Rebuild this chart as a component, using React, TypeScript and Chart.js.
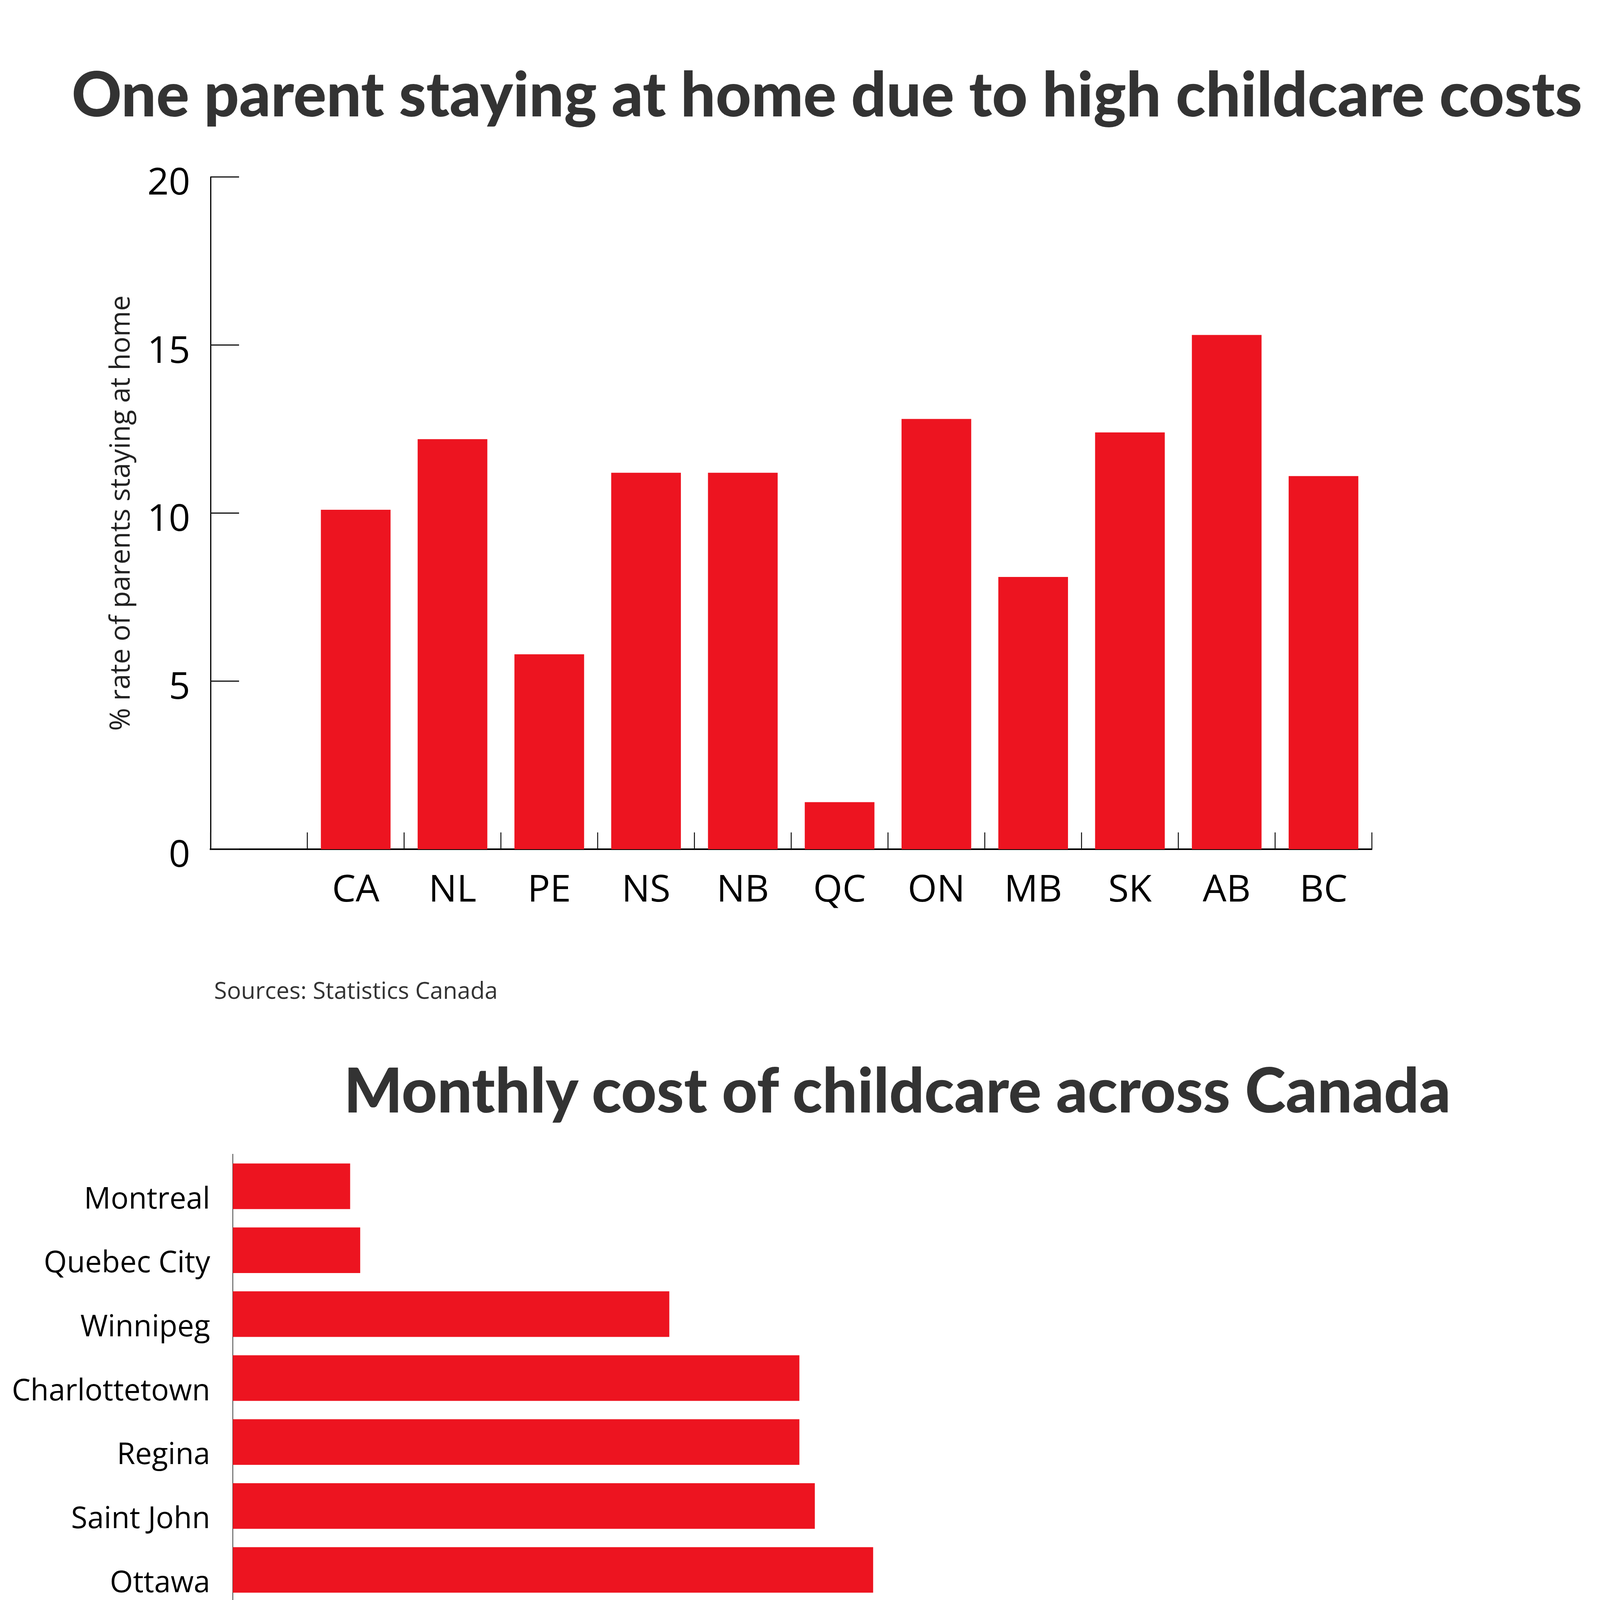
import React, { useEffect, useRef } from 'react';
import { Chart, registerables } from 'chart.js';

Chart.register(...registerables);

// ---------- data ----------
const provinces = ['CA', 'NL', 'PE', 'NS', 'NB', 'QC', 'ON', 'MB', 'SK', 'AB', 'BC'];
const stayHomeRate = [10.1, 12.2, 5.8, 11.2, 11.2, 1.4, 12.8, 8.1, 12.4, 15.3, 11.1];
const rateTicks = [0, 5, 10, 15, 20];

const cities = [
  'Montreal', 'Quebec City', 'Winnipeg', 'Charlottetown', 'Regina', 'Saint John',
  'Ottawa', 'Halifax', 'Edmonton', "St. John's", 'Calgary', 'Vancouver', 'Toronto',
];
const monthlyCost = [175, 190, 651, 845, 845, 868, 955, 965, 975, 977, 1100, 1400, 1685];
const costTicks = [0, 500, 1000, 1500, 2000];
const costTickLabels = ['0', '$500', '$1000', '$1500', '$2000'];

const title1 = 'One parent staying at home due to high childcare costs';
const title2 = 'Monthly cost of childcare across Canada';
const source1 = 'Sources: Statistics Canada';
const source2 = 'Sources: Canadian Centre for Policy Alternatives (CCPA)';
const yTitle1 = '% rate of parents staying at home';

const RED = '#ED1420';
const LABEL_FONT = "'Open Sans', 'Noto Sans', sans-serif";

// inward tick marks drawn from the library's scales, under the bars
const innerTicks = {
  id: 'innerTicks',
  beforeDatasetsDraw(chart: any, _args: any, opts: any) {
    if (!opts || !opts.items) return;
    const { ctx, chartArea } = chart;
    ctx.save();
    for (const item of opts.items) {
      const scale = chart.scales[item.scale];
      if (!scale) continue;
      ctx.strokeStyle = item.color;
      ctx.lineWidth = item.width;
      ctx.lineCap = 'butt';
      ctx.beginPath();
      if (item.mode === 'boundaries') {
        const n = scale.getLabels().length;
        for (let i = 0; i <= n; i++) {
          const x = scale.getPixelForValue(i - 0.5);
          ctx.moveTo(x, chartArea.bottom);
          ctx.lineTo(x, chartArea.bottom - item.length);
        }
      } else if (scale.isHorizontal()) {
        scale.ticks.forEach((_t: any, i: number) => {
          const x = scale.getPixelForTick(i);
          ctx.moveTo(x, chartArea.bottom);
          ctx.lineTo(x, chartArea.bottom - item.length);
        });
      } else {
        scale.ticks.forEach((_t: any, i: number) => {
          const y = scale.getPixelForTick(i);
          ctx.moveTo(chartArea.left, y);
          ctx.lineTo(chartArea.left + item.length, y);
        });
      }
      ctx.stroke();
    }
    ctx.restore();
  },
};

function zeroPad(scale: any) {
  scale.paddingTop = 0;
  scale.paddingBottom = 0;
  scale.paddingLeft = 0;
  scale.paddingRight = 0;
}

const W = 4168;
const C1_TOP = 400;
const C1_H = 2000;
const C2_TOP = 2900;
const C2_H = 2400;

export default function App() {
  const ref1 = useRef<HTMLCanvasElement>(null);
  const ref2 = useRef<HTMLCanvasElement>(null);

  useEffect(() => {
    const labels1 = ['', ...provinces];
    const data1 = [null, ...stayHomeRate];

    const chart1 = new Chart(ref1.current as HTMLCanvasElement, {
      type: 'bar',
      data: {
        labels: labels1,
        datasets: [
          {
            data: data1 as any,
            backgroundColor: RED,
            borderWidth: 0,
            barPercentage: 0.72,
            categoryPercentage: 1,
          },
        ],
      },
      plugins: [innerTicks as any],
      options: {
        responsive: false,
        animation: false,
        devicePixelRatio: 1,
        layout: { padding: { top: 53, right: 656, left: 0, bottom: 0 } },
        plugins: {
          legend: { display: false },
          tooltip: { enabled: false },
          innerTicks: {
            items: [
              { scale: 'x', mode: 'boundaries', length: 43, width: 2.5, color: '#111' },
              { scale: 'y', mode: 'ticks', length: 73, width: 3, color: '#111' },
            ],
          },
        } as any,
        scales: {
          x: {
            offset: true,
            grid: { display: false, drawTicks: false },
            border: { display: true, color: '#000', width: 4 },
            ticks: {
              color: '#000',
              font: { family: LABEL_FONT, size: 96 },
              padding: 49,
              maxRotation: 0,
              autoSkip: false,
            },
            afterFit: (s: any) => {
              s.height = C1_TOP + C1_H - 2174;
              zeroPad(s);
            },
          },
          y: {
            min: 0,
            max: 20,
            afterBuildTicks: (s: any) => {
              s.ticks = rateTicks.map((v) => ({ value: v }));
            },
            grid: { display: false, drawTicks: false },
            border: { display: true, color: '#000', width: 3 },
            ticks: {
              color: '#000',
              font: { family: LABEL_FONT, size: 96 },
              padding: 52,
              labelOffset: 18,
            },
            title: {
              display: true,
              text: yTitle1,
              color: '#222',
              font: { family: LABEL_FONT, size: 71 },
              padding: { top: 269, bottom: 0 },
            },
            afterFit: (s: any) => {
              s.width = 539;
              zeroPad(s);
            },
          },
        },
      },
    });

    const chart2 = new Chart(ref2.current as HTMLCanvasElement, {
      type: 'bar',
      data: {
        labels: cities,
        datasets: [
          {
            data: monthlyCost,
            backgroundColor: RED,
            borderWidth: 0,
            barPercentage: 0.713,
            categoryPercentage: 1,
          },
        ],
      },
      plugins: [innerTicks as any],
      options: {
        indexAxis: 'y',
        responsive: false,
        animation: false,
        devicePixelRatio: 1,
        layout: { padding: { top: 55, right: 139, left: 0, bottom: 0 } },
        plugins: {
          legend: { display: false },
          tooltip: { enabled: false },
          innerTicks: {
            items: [{ scale: 'x', mode: 'ticks', length: 53, width: 2, color: '#222' }],
          },
        } as any,
        scales: {
          x: {
            min: 0,
            max: 2000,
            afterBuildTicks: (s: any) => {
              s.ticks = costTicks.map((v) => ({ value: v }));
            },
            grid: { display: false, drawTicks: false },
            border: { display: true, color: '#000', width: 3 },
            ticks: {
              color: '#000',
              font: { family: LABEL_FONT, size: 77 },
              padding: 78,
              maxRotation: 0,
              callback: (v: any) => {
                const i = costTicks.indexOf(Number(v));
                return i >= 0 ? costTickLabels[i] : '';
              },
            },
            afterFit: (s: any) => {
              s.height = C2_TOP + C2_H - 5083;
              zeroPad(s);
            },
          },
          y: {
            offset: true,
            grid: { display: false, drawTicks: false },
            border: { display: true, color: '#444', width: 2 },
            ticks: {
              color: '#000',
              font: { family: LABEL_FONT, size: 76 },
              padding: 58,
              labelOffset: 35,
              autoSkip: false,
            },
            afterFit: (s: any) => {
              s.width = 596;
              zeroPad(s);
            },
          },
        },
      },
    });

    return () => {
      chart1.destroy();
      chart2.destroy();
    };
  }, []);

  const titleStyle: React.CSSProperties = {
    position: 'absolute',
    width: 4000,
    textAlign: 'center',
    fontFamily: "Lato, 'Open Sans', sans-serif",
    fontWeight: 900,
    fontSize: 158,
    lineHeight: '158px',
    color: '#333',
    whiteSpace: 'nowrap',
    margin: 0,
  };
  const sourceStyle: React.CSSProperties = {
    position: 'absolute',
    left: 548,
    fontFamily: LABEL_FONT,
    fontSize: 60,
    lineHeight: '60px',
    color: '#333',
    whiteSpace: 'nowrap',
  };

  return (
    <div
      style={{
        position: 'absolute',
        left: 0,
        top: 0,
        width: W,
        height: 5516,
        overflow: 'hidden',
        background: '#fff',
      }}
    >
      <div style={{ ...titleStyle, left: 117, top: 158 }}>{title1}</div>
      <canvas
        ref={ref1}
        width={W}
        height={C1_H}
        style={{ position: 'absolute', left: 0, top: C1_TOP, width: W, height: C1_H }}
      />
      <div style={{ ...sourceStyle, top: 2504 }}>{source1}</div>

      <div style={{ ...titleStyle, left: 297, top: 2708 }}>{title2}</div>
      <canvas
        ref={ref2}
        width={W}
        height={C2_H}
        style={{ position: 'absolute', left: 0, top: C2_TOP, width: W, height: C2_H }}
      />
      <div style={{ ...sourceStyle, left: 550, top: 5387 }}>{source2}</div>
    </div>
  );
}
